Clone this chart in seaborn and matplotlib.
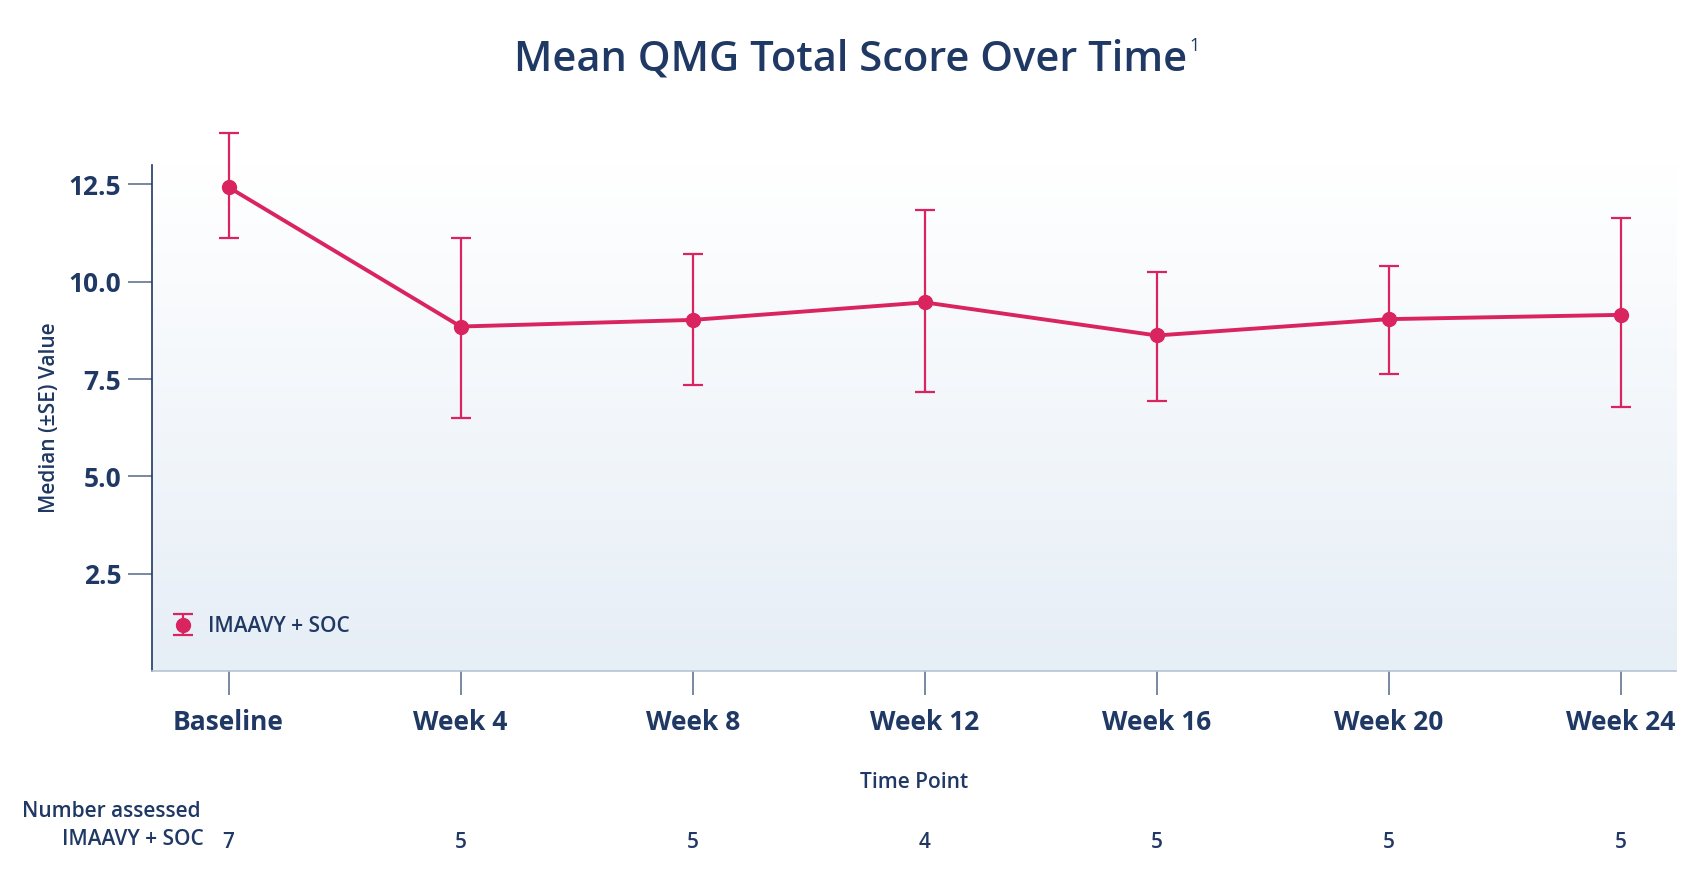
import numpy as np
import pandas as pd
import seaborn as sns
import matplotlib.pyplot as plt
from matplotlib.colors import LinearSegmentedColormap

time_points = ['Baseline', 'Week 4', 'Week 8', 'Week 12', 'Week 16', 'Week 20', 'Week 24']
mean_score = [12.43, 8.85, 9.02, 9.47, 8.62, 9.04, 9.15]
upper = [13.82, 11.12, 10.71, 11.85, 10.25, 10.41, 11.63]
lower = [11.13, 6.49, 7.35, 7.16, 6.93, 7.64, 6.79]
n_assessed = [7, 5, 5, 4, 5, 5, 5]
y_ticks = [2.5, 5.0, 7.5, 10.0, 12.5]

navy = '#1F3864'
pink = '#D9245F'
tick_grey = '#6F7F99'

sns.set_theme(style='white')
plt.rcParams['font.family'] = ['Open Sans', 'DejaVu Sans']

df = pd.DataFrame({'pos': range(len(time_points)), 'score': mean_score})

fig = plt.figure(figsize=(17.02, 8.8), dpi=100)
ax = fig.add_axes([0.0893, 0.2375, 0.8957, 0.575])

xlim = (-0.33, 6.24)
ylim = (0, 13.0)

# soft vertical gradient behind the plot (white at top, pale blue at bottom)
grad = np.linspace(0, 1, 256).reshape(-1, 1)
cmap = LinearSegmentedColormap.from_list('bg', ['#FFFFFF', '#E6EEF6'])
ax.imshow(grad, extent=[xlim[0], xlim[1], ylim[0], ylim[1]], aspect='auto',
          cmap=cmap, zorder=0, origin='upper')

sns.lineplot(data=df, x='pos', y='score', color=pink, linewidth=2.8, ax=ax,
             zorder=3, legend=False)
yerr = [np.array(mean_score) - np.array(lower), np.array(upper) - np.array(mean_score)]
eb = ax.errorbar(df['pos'], df['score'], yerr=yerr, fmt='o', color=pink, ecolor=pink,
                 elinewidth=1.6, capsize=7, capthick=1.6, markersize=10, zorder=4,
                 label='IMAAVY + SOC')
for artist in eb.lines[1] + eb.lines[2]:
    artist.set_clip_on(False)
eb.lines[0].set_clip_on(False)

ax.set_xlim(*xlim)
ax.set_ylim(*ylim)

ax.set_xticks(range(len(time_points)))
ax.set_xticklabels(time_points)
ax.set_yticks(y_ticks)
ax.set_yticklabels([f'{v:.1f}' for v in y_ticks])
ax.tick_params(axis='x', bottom=True, length=17, width=1.3, color=tick_grey, pad=10,
               labelsize=19, labelcolor=navy)
ax.tick_params(axis='y', left=True, length=17, width=1.3, color=tick_grey, pad=5,
               labelsize=19, labelcolor=navy)
for lab in ax.get_xticklabels() + ax.get_yticklabels():
    lab.set_fontweight('bold')

for side in ['top', 'right']:
    ax.spines[side].set_visible(False)
ax.spines['left'].set_color(navy)
ax.spines['left'].set_linewidth(1.2)
ax.spines['bottom'].set_color('#B5C3D6')
ax.spines['bottom'].set_linewidth(1.2)

ax.set_xlabel('Time Point', fontsize=15, fontweight='semibold', color=navy, labelpad=26)
ax.set_ylabel('Median (±SE) Value', fontsize=15, fontweight='semibold', color=navy, labelpad=6)

leg = ax.legend(loc='lower left', bbox_to_anchor=(0.0, 0.03), frameon=False,
                fontsize=15, handletextpad=0.6, handlelength=1.2)
for t in leg.get_texts():
    t.set_color(navy)
    t.set_fontweight('semibold')

title = fig.text(0.5, 0.932, 'Mean QMG Total Score Over Time', ha='center', va='center',
                 fontsize=30, fontweight='semibold', color=navy)
fig.canvas.draw()
bb = title.get_window_extent()
fig.text(bb.x1 / fig.bbox.width + 0.001, bb.y1 / fig.bbox.height + 0.002, '1',
         ha='left', va='top', fontsize=13, color=navy)

# number assessed table
fig.text(22 / 1702, 1 - 811 / 880, 'Number assessed', ha='left', va='center',
         fontsize=15, fontweight='semibold', color=navy)
fig.text(204 / 1702, 1 - 839 / 880, 'IMAAVY + SOC', ha='right', va='center',
         fontsize=15, fontweight='semibold', color=navy)
for i, n in enumerate(n_assessed):
    ax.annotate(str(n), xy=(i, 0), xycoords=('data', 'axes fraction'),
                xytext=(0, -(842 - 671)), textcoords='offset pixels',
                ha='center', va='center', fontsize=15, fontweight='semibold', color=navy)

fig.savefig('out.png', dpi=100, facecolor='white')
